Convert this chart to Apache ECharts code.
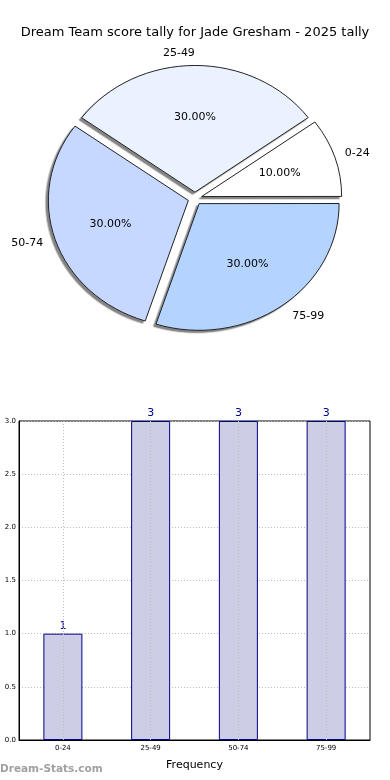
<!DOCTYPE html>
<html>
<head>
<meta charset="utf-8">
<script src="https://cdn.jsdelivr.net/npm/echarts@6/dist/echarts.min.js"></script>
<style>
html,body{margin:0;padding:0;background:#fff;}
#wrap{position:relative;width:390px;height:780px;overflow:hidden;}
#p{position:absolute;left:0;top:0;width:390px;height:400px;transform-origin:195px 198.5px;transform:scaleY(0.905);}
#c{position:absolute;left:0;top:0;width:390px;height:780px;}
</style>
</head>
<body>
<div id="wrap"><div id="p"></div><div id="c"></div></div>
<script>
var titleText = 'Dream Team score tally for Jade Gresham - 2025 tally';
var categories = ['0-24', '25-49', '50-74', '75-99'];
var counts = [1, 3, 3, 3];
var sliceColors = ['#ffffff', '#eaf1ff', '#c6d8ff', '#b4d4ff'];
var yTicks = [0, 0.5, 1.0, 1.5, 2.0, 2.5, 3.0];
var xAxisName = 'Frequency';
var watermark = 'Dream-Stats.com';

var total = counts.reduce(function(a, b){ return a + b; }, 0);
var FONT = 'DejaVu Sans, sans-serif';
var CX = 195, CY = 198.5, SQUEEZE = 0.905;

/* slices (drawn in a vertically squeezed layer so the pie is elliptical like the original) */
var pieChart = echarts.init(document.getElementById('p'), null, {renderer: 'svg'});
pieChart.setOption({
  animation: false,
  series: [{
    type: 'pie',
    center: [CX, CY],
    radius: [0, 140],
    startAngle: 0.05,
    clockwise: false,
    selectedMode: 'multiple',
    selectedOffset: 7,
    data: categories.map(function(c, i){
      return { name: c, value: counts[i], selected: true, itemStyle: { color: sliceColors[i] } };
    }),
    itemStyle: {
      borderColor: '#000', borderWidth: 0.9,
      shadowColor: 'rgba(110,110,110,0.85)', shadowBlur: 0, shadowOffsetX: -2.5, shadowOffsetY: 2.5
    },
    label: { show: false },
    labelLine: { show: false },
    emphasis: { disabled: true }
  }]
});

/* main layer: title, pie labels, bar chart */
var chart = echarts.init(document.getElementById('c'), null, {renderer: 'canvas'});
chart.setOption({
  animation: false,
  backgroundColor: 'transparent',
  title: {
    text: titleText,
    left: 'center',
    top: 21,
    textStyle: { fontFamily: FONT, fontSize: 13, fontWeight: 'normal', color: '#000' }
  },
  graphic: [{
    type: 'text',
    left: 0,
    top: 764,
    style: { text: watermark, fontFamily: FONT, fontSize: 10.5, fontWeight: 'bold', fill: '#a0a0a0' }
  }],
  grid: {
    left: 19, right: 20, top: 421, bottom: 40,
    show: true, borderColor: '#000', borderWidth: 1, backgroundColor: 'transparent'
  },
  xAxis: {
    type: 'category',
    data: categories,
    boundaryGap: true,
    name: xAxisName,
    nameLocation: 'middle',
    nameGap: 20,
    nameTextStyle: { fontFamily: FONT, fontSize: 11, color: '#000' },
    axisLine: { lineStyle: { color: '#000' } },
    axisTick: { show: false },
    axisLabel: { fontFamily: FONT, fontSize: 7, color: '#000', margin: 5 },
    splitLine: { show: false }
  },
  yAxis: {
    type: 'value',
    min: 0, max: 3, interval: 0.5,
    axisLine: { show: true, lineStyle: { color: '#000' } },
    axisTick: { show: false },
    axisLabel: { fontFamily: FONT, fontSize: 7, color: '#000', margin: 3,
      formatter: function(v){ return v.toFixed(1); } },
    splitLine: { show: true, lineStyle: { color: '#bdbdbd', type: [1, 2] } }
  },
  series: [
    {
      type: 'pie',
      center: [CX, CY],
      radius: [0, 130],
      startAngle: 0.05,
      clockwise: false,
      selectedMode: 'multiple',
      selectedOffset: 7,
      silent: true,
      data: categories.map(function(c, i){
        var item = { name: c, value: counts[i], selected: true };
        if (i === 1) { item.label = { distanceToLabelLine: 0 }; item.labelLine = { length2: 0 }; }
        if (i === 2) { item.labelLine = { length2: 9 }; }
        return item;
      }),
      itemStyle: { color: 'rgba(0,0,0,0)', borderWidth: 0 },
      label: {
        show: true, position: 'outside',
        fontFamily: FONT, fontSize: 11, color: '#000',
        formatter: '{b}', distanceToLabelLine: 5
      },
      labelLine: { show: false, length: 8, length2: 7 },
      avoidLabelOverlap: false,
      emphasis: { disabled: true }
    },
    {
      type: 'pie',
      center: [CX, CY],
      radius: [20, 138],
      startAngle: 0.05,
      clockwise: false,
      selectedMode: 'multiple',
      selectedOffset: 7,
      silent: true,
      data: categories.map(function(c, i){ return { name: c, value: counts[i], selected: true }; }),
      itemStyle: { color: 'rgba(0,0,0,0)', borderWidth: 0 },
      label: {
        show: true, position: 'inside',
        fontFamily: FONT, fontSize: 11, color: '#000',
        formatter: function(p){ return (p.value / total * 100).toFixed(2) + '%'; }
      },
      labelLayout: function(params){
        var r = params.labelRect;
        var my = r.y + r.height / 2;
        return { dy: (CY + (my - CY) * SQUEEZE) - my };
      },
      labelLine: { show: false },
      emphasis: { disabled: true }
    },
    {
      type: 'bar',
      data: counts,
      barWidth: 39,
      itemStyle: { color: '#cdcde6', borderColor: '#00008b', borderWidth: 1 },
      label: { show: true, position: 'top', distance: 2, fontFamily: FONT, fontSize: 11, color: '#00008b' },
      emphasis: { disabled: true },
      z: 3,
      markLine: {
        silent: true,
        symbol: ['none', 'none'],
        label: { show: false },
        lineStyle: { color: '#bdbdbd', type: [1, 2], width: 1 },
        emphasis: { disabled: true },
        data: categories.map(function(c){ return { xAxis: c }; })
      }
    }
  ]
});
</script>
</body>
</html>
